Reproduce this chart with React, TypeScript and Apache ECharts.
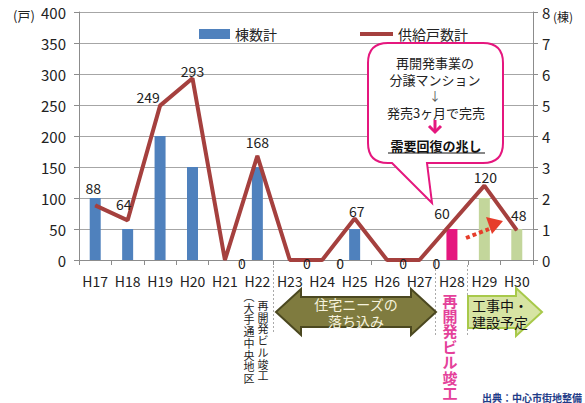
import React, { useEffect, useRef } from "react";
import * as echarts from "echarts";

const categories = ["H17", "H18", "H19", "H20", "H21", "H22", "H23", "H24", "H25", "H26", "H27", "H28", "H29", "H30"];
const buildingCounts = [2, 1, 4, 3, 0, 3, 0, 0, 1, 0, 0, 1, 2, 1];
const supplyUnits = [88, 64, 249, 293, 0, 168, 0, 0, 67, 0, 0, 60, 120, 48];
const unitsAxis = { min: 0, max: 400, interval: 50 };
const buildingsAxis = { min: 0, max: 8, interval: 1 };

const FONT = "'Noto Sans CJK JP', 'Noto Sans', sans-serif";
const BLUE = "#4F81BD";
const PINK = "#E5177E";
const GREEN = "#C3D69B";
const RED_LINE = "#A5403E";

// label placement tweaks (styling only)
const labelOffsets: [number, number][] = [
  [-2, -5], [-4, -4], [-12, 4], [0, 5], [17, 15], [0, -1], [17, 15],
  [18, 15], [2, 5], [16, 15], [17, 15], [-10, 3], [1, 4], [2, -3],
];

const calloutPath =
  "M 388 43 L 483 43 Q 503 43 503 63 L 503 143 Q 503 163 483 163 L 427 163 L 432 203 L 392 163 L 388 163 Q 368 163 368 143 L 368 63 Q 368 43 388 43 Z";

let registered = false;
function registerShapes() {
  if (registered) return;
  registered = true;
  echarts.graphic.registerShape("callout", echarts.graphic.extendPath(calloutPath, {}) as any);
}

// one text element per character, stacked vertically
function verticalText(s: string, cx: number, firstCenterY: number, step: number, style: any) {
  return Array.from(s).map((ch, i) => ({
    type: "text",
    x: cx,
    y: firstCenterY + i * step,
    style: { text: ch, align: "center", verticalAlign: "middle", fontFamily: FONT, lineHeight: step - 0.5, ...style },
  }));
}

export default function App() {
  const ref = useRef<HTMLDivElement>(null);
  useEffect(() => {
    document.body.style.margin = "0";
    registerShapes();
    const chart = echarts.init(ref.current!, undefined, { renderer: "svg" });
    const barColor = (i: number) => (i === 11 ? PINK : i > 11 ? GREEN : BLUE);
    const option: any = {
      animation: false,
      textStyle: { fontFamily: FONT },
      grid: { left: 79, right: 52, top: 12, bottom: 143, containLabel: false },
      legend: [
        {
          left: 194, top: 22, itemWidth: 31, itemHeight: 10, itemGap: 5, selectedMode: false,
          data: [{ name: "棟数計", icon: "rect" }],
          textStyle: { fontSize: 14, color: "#222", fontFamily: FONT },
        },
        {
          left: 355, top: 22, itemWidth: 33, itemHeight: 4, selectedMode: false,
          data: [{ name: "供給戸数計", icon: "rect" }],
          textStyle: { fontSize: 14, color: "#222", fontFamily: FONT },
        },
      ],
      xAxis: {
        type: "category",
        data: categories,
        boundaryGap: true,
        axisLine: { lineStyle: { color: "#8C8C8C", width: 1 } },
        axisTick: { show: true, length: 5, lineStyle: { color: "#8C8C8C" } },
        axisLabel: { margin: 14, fontSize: 14, color: "#222", fontFamily: FONT, interval: 0 },
      },
      yAxis: [
        {
          type: "value", ...unitsAxis, position: "left",
          axisLine: { show: true, lineStyle: { color: "#8C8C8C" } },
          axisTick: { show: true, length: 5, lineStyle: { color: "#8C8C8C" } },
          axisLabel: { margin: 13, fontSize: 15, color: "#222", fontFamily: FONT },
          splitLine: { show: true, lineStyle: { color: "#A6A6A6", width: 1 } },
        },
        {
          type: "value", ...buildingsAxis, position: "right",
          axisLine: { show: true, lineStyle: { color: "#8C8C8C" } },
          axisTick: { show: true, length: 5, lineStyle: { color: "#8C8C8C" } },
          axisLabel: { margin: 9, fontSize: 15, color: "#222", fontFamily: FONT },
          splitLine: { show: false },
        },
      ],
      series: [
        {
          name: "棟数計",
          type: "bar",
          yAxisIndex: 1,
          barWidth: 11,
          itemStyle: { color: BLUE },
          data: buildingCounts.map((v, i) => ({ value: v, itemStyle: { color: barColor(i) } })),
          z: 2,
        },
        {
          name: "供給戸数計",
          type: "line",
          yAxisIndex: 0,
          symbol: "circle",
          symbolSize: 1,
          showSymbol: true,
          lineStyle: { color: RED_LINE, width: 4 },
          itemStyle: { color: RED_LINE },
          data: supplyUnits.map((v, i) => ({
            value: v,
            label: { show: true, position: "top", offset: labelOffsets[i] },
          })),
          label: { show: true, fontSize: 14, color: "#222", fontFamily: FONT },
          z: 3,
        },
      ],
      graphic: [
        { type: "text", left: 13, top: 9, style: { text: "(戸)", fontSize: 13, fill: "#222", fontFamily: FONT } },
        { type: "text", left: 553, top: 10, style: { text: "(棟)", fontSize: 12, fill: "#222", fontFamily: FONT } },
        // callout
        { type: "callout", x: 0, y: 0, z: 10, style: { fill: "#fff", stroke: PINK, lineWidth: 2 } },
        {
          type: "text", x: 435, y: 62, z: 11,
          style: { text: "再開発事業の", fontSize: 13, fill: "#222", fontFamily: FONT, align: "center", verticalAlign: "middle" },
        },
        {
          type: "text", x: 435, y: 79, z: 11,
          style: { text: "分譲マンション", fontSize: 13, fill: "#222", fontFamily: FONT, align: "center", verticalAlign: "middle" },
        },
        {
          type: "text", x: 435, y: 95, z: 11,
          style: { text: "↓", fontSize: 12, fill: "#555", fontFamily: FONT, align: "center", verticalAlign: "middle" },
        },
        {
          type: "text", x: 436, y: 112, z: 11,
          style: { text: "発売3ヶ月で完売", fontSize: 13, fill: "#222", fontFamily: FONT, align: "center", verticalAlign: "middle" },
        },
        { type: "line", z: 11, shape: { x1: 435, y1: 120, x2: 435, y2: 132 }, style: { stroke: PINK, lineWidth: 3 } },
        { type: "polyline", z: 11, shape: { points: [[429, 126], [435, 132], [441, 126]] }, style: { stroke: PINK, lineWidth: 3, fill: null } },
        {
          type: "text", x: 436, y: 145, z: 11,
          style: { text: "需要回復の兆し", fontSize: 13, fontWeight: "bold", fill: "#111", fontFamily: FONT, align: "center", verticalAlign: "middle" },
        },
        { type: "line", z: 11, shape: { x1: 388, y1: 153, x2: 485, y2: 153 }, style: { stroke: "#111", lineWidth: 1.2 } },
        // red dotted arrow
        { type: "line", z: 12, shape: { x1: 466, y1: 238, x2: 489, y2: 229 }, style: { stroke: "#E63D2B", lineWidth: 4, lineDash: [4, 3] } },
        { type: "polygon", z: 12, shape: { points: [[503, 221], [486, 217], [492, 234]] }, style: { fill: "#E63D2B" } },
        // dotted separators
        { type: "line", shape: { x1: 273.5, y1: 262, x2: 273.5, y2: 333 }, style: { stroke: "#AAA", lineWidth: 1, lineDash: [2, 2] } },
        { type: "line", shape: { x1: 435.5, y1: 265, x2: 435.5, y2: 335 }, style: { stroke: "#AAA", lineWidth: 1, lineDash: [2, 2] } },
        { type: "line", shape: { x1: 467.5, y1: 265, x2: 467.5, y2: 335 }, style: { stroke: "#AAA", lineWidth: 1, lineDash: [2, 2] } },
        // vertical texts under H22
        ...verticalText("再開発ビル竣工", 263, 305, 11.7, { fontSize: 11, fill: "#222" }),
        ...verticalText("︵大手通中央地区", 249, 296, 11.7, { fontSize: 11, fill: "#222" }),
        // olive double arrow
        {
          type: "polygon",
          shape: { points: [[276, 312], [301, 289], [301, 297], [411, 297], [411, 289], [436, 312], [411, 335], [411, 327], [301, 327], [301, 335]] },
          style: { fill: "#7F7B3F", stroke: "#4B4820", lineWidth: 2 },
        },
        {
          type: "text", x: 356, y: 312,
          style: { text: "住宅ニーズの\n落ち込み", fontSize: 14, lineHeight: 17, fill: "#F6F3DE", fontFamily: FONT, align: "center", verticalAlign: "middle" },
        },
        // pink vertical text
        ...verticalText("再開発ビル竣工", 450, 300, 15.4, { fontSize: 15, fontWeight: "bold", fill: "#E4419A" }),
        // green arrow
        {
          type: "polygon",
          shape: { points: [[468, 296], [516, 296], [516, 288], [542, 312], [516, 336], [516, 328], [468, 328]] },
          style: { fill: "#D7E4A3", stroke: "#A8C94A", lineWidth: 2 },
        },
        {
          type: "text", x: 500, y: 313,
          style: { text: "工事中・\n建設予定", fontSize: 14, lineHeight: 17, fill: "#111", fontFamily: FONT, align: "center", verticalAlign: "middle" },
        },
        // source
        {
          type: "text", x: 482, y: 397,
          style: { text: "出典：中心市街地整備", fontSize: 10, fontWeight: "bold", fill: "#1F3C88", fontFamily: FONT, verticalAlign: "middle" },
        },
      ],
    };
    chart.setOption(option);
    return () => chart.dispose();
  }, []);
  return <div ref={ref} style={{ width: 585, height: 403 }} />;
}
